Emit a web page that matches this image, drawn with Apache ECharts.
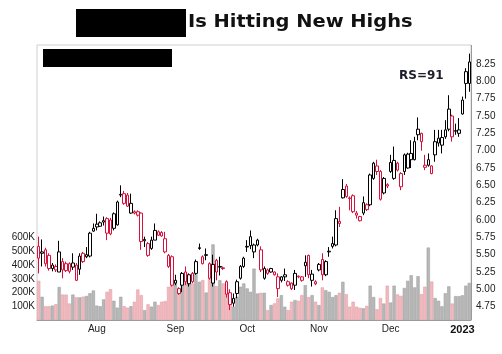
<!DOCTYPE html>
<html>
<head>
<meta charset="utf-8">
<script src="https://cdn.jsdelivr.net/npm/echarts@6/dist/echarts.min.js"></script>
<style>
  html, body { margin: 0; padding: 0; background: #fff; }
  #chart { width: 502px; height: 354px; }
</style>
</head>
<body>
<div id="chart"></div>
<script>
// trading days Jul 7 2022 - Jan 5 2023
var dates = [
  '2022-07-07','2022-07-08','2022-07-11','2022-07-12','2022-07-13','2022-07-14','2022-07-15','2022-07-18','2022-07-19','2022-07-20','2022-07-21','2022-07-22','2022-07-25','2022-07-26','2022-07-27','2022-07-28','2022-07-29',
  '2022-08-01','2022-08-02','2022-08-03','2022-08-04','2022-08-05','2022-08-08','2022-08-09','2022-08-10','2022-08-11','2022-08-12','2022-08-15','2022-08-16','2022-08-17','2022-08-18','2022-08-19','2022-08-22','2022-08-23','2022-08-24','2022-08-25','2022-08-26','2022-08-29','2022-08-30','2022-08-31',
  '2022-09-01','2022-09-02','2022-09-06','2022-09-07','2022-09-08','2022-09-09','2022-09-12','2022-09-13','2022-09-14','2022-09-15','2022-09-16','2022-09-19','2022-09-20','2022-09-21','2022-09-22','2022-09-23','2022-09-26','2022-09-27','2022-09-28','2022-09-29','2022-09-30',
  '2022-10-03','2022-10-04','2022-10-05','2022-10-06','2022-10-07','2022-10-10','2022-10-11','2022-10-12','2022-10-13','2022-10-14','2022-10-17','2022-10-18','2022-10-19','2022-10-20','2022-10-21','2022-10-24','2022-10-25','2022-10-26','2022-10-27','2022-10-28','2022-10-31',
  '2022-11-01','2022-11-02','2022-11-03','2022-11-04','2022-11-07','2022-11-08','2022-11-09','2022-11-10','2022-11-11','2022-11-14','2022-11-15','2022-11-16','2022-11-17','2022-11-18','2022-11-21','2022-11-22','2022-11-23','2022-11-25','2022-11-28','2022-11-29','2022-11-30',
  '2022-12-01','2022-12-02','2022-12-05','2022-12-06','2022-12-07','2022-12-08','2022-12-09','2022-12-12','2022-12-13','2022-12-14','2022-12-15','2022-12-16','2022-12-19','2022-12-20','2022-12-21','2022-12-22','2022-12-23','2022-12-27','2022-12-28','2022-12-29','2022-12-30',
  '2023-01-03','2023-01-04','2023-01-05'
];

var opens = [
  5.62,5.52,5.57,5.49,5.35,5.33,5.25,5.40,5.37,5.37,5.32,5.35,5.29,5.52,5.47,5.48,5.84,5.94,5.91,5.99,
  6.02,6.00,5.88,5.93,6.37,6.38,6.36,6.10,6.12,6.12,6.10,5.72,5.66,5.59,5.71,5.83,5.82,5.73,5.49,5.47,
  5.13,5.01,5.06,5.25,5.08,5.23,5.23,5.60,5.37,5.50,5.37,5.09,5.42,5.33,5.31,5.11,4.95,4.87,4.94,5.16,
  5.33,5.62,5.76,5.54,5.64,5.57,5.16,5.28,5.25,5.21,5.18,5.13,5.18,5.11,5.09,5.06,5.19,5.18,5.34,5.49,
  5.13,5.11,5.28,5.43,5.21,5.55,5.62,5.64,5.98,6.32,6.49,6.32,6.35,6.10,5.99,6.10,6.22,6.22,6.60,6.78,
  6.70,6.39,6.51,6.70,6.60,6.82,6.48,6.70,6.75,6.87,6.87,7.23,7.25,6.79,6.79,6.67,6.94,7.11,7.08,7.20,
  7.31,7.50,7.29,7.25,7.53,7.97,7.97
];
var closes = [
  5.45,5.54,5.37,5.30,5.30,5.28,5.54,5.28,5.27,5.26,5.38,5.13,5.48,5.40,5.50,5.81,5.88,5.90,5.96,5.97,
  5.81,5.80,6.09,6.26,6.36,6.24,6.20,6.24,6.10,6.07,5.69,5.70,5.49,5.71,5.85,5.78,5.77,5.54,5.33,5.06,
  5.09,4.94,5.23,5.11,5.21,5.11,5.40,5.59,5.47,5.49,5.16,5.36,5.25,5.32,5.30,4.93,4.78,4.80,5.11,5.33,
  5.45,5.61,5.63,5.64,5.71,5.28,5.30,5.23,5.30,5.25,5.01,5.18,5.21,5.06,5.01,5.23,5.18,5.13,5.39,5.21,
  5.22,5.08,5.36,5.21,5.40,5.54,5.66,6.02,5.95,6.44,6.34,6.31,6.12,6.07,6.05,6.25,6.15,6.65,6.82,6.70,
  6.30,6.60,6.49,6.83,6.86,6.72,6.67,6.94,6.95,6.96,7.13,7.31,7.13,6.76,6.87,6.78,7.13,7.18,7.19,7.30,
  7.60,7.20,7.28,7.30,7.73,8.14,8.28
];
var lows = [
  5.23,5.33,5.33,5.27,5.26,5.25,5.25,5.16,5.25,5.23,5.28,5.12,5.21,5.38,5.45,5.46,5.83,5.85,5.90,5.92,
  5.71,5.78,5.85,5.92,6.33,6.22,6.19,6.09,6.08,6.05,5.57,5.61,5.47,5.57,5.71,5.77,5.76,5.52,5.31,5.04,
  5.06,4.92,4.96,5.06,5.04,5.09,5.21,5.57,5.36,5.42,5.14,5.04,5.13,5.20,5.28,4.88,4.70,4.75,4.87,5.14,
  5.31,5.54,5.58,5.45,5.62,5.25,5.14,5.21,5.24,5.20,4.89,5.10,5.12,5.04,4.99,4.99,5.16,5.11,5.18,5.16,
  5.04,5.06,5.26,5.13,5.19,5.47,5.59,5.62,5.90,6.31,6.32,6.14,6.10,6.02,5.98,6.07,6.13,6.20,6.58,6.65,
  6.28,6.37,6.46,6.68,6.58,6.70,6.43,6.65,6.74,6.75,6.86,7.15,7.00,6.72,6.77,6.66,6.84,7.06,6.96,7.17,
  7.28,7.13,7.23,7.20,7.52,7.75,7.85
];
var highs = [
  5.76,5.72,5.60,5.52,5.38,5.36,5.70,5.45,5.40,5.39,5.52,5.38,5.52,5.54,5.61,5.83,5.95,6.09,5.98,6.05,
  6.04,6.03,6.11,6.28,6.50,6.42,6.39,6.38,6.14,6.14,6.11,5.76,5.68,5.76,5.95,5.85,5.84,5.83,5.51,5.49,
  5.21,5.03,5.25,5.33,5.23,5.25,5.43,5.66,5.49,5.59,5.39,5.50,5.44,5.47,5.33,5.13,5.00,4.94,5.14,5.35,
  5.47,5.71,5.85,5.66,5.73,5.62,5.33,5.30,5.31,5.26,5.23,5.19,5.30,5.13,5.10,5.28,5.20,5.19,5.49,5.50,
  5.28,5.13,5.38,5.52,5.42,5.61,5.76,6.14,6.19,6.59,6.52,6.34,6.37,6.13,6.06,6.34,6.24,6.67,6.84,6.87,
  6.72,6.62,6.53,6.94,7.06,6.84,6.69,6.96,6.97,7.15,7.20,7.48,7.26,6.94,6.96,6.79,7.30,7.30,7.30,7.44,
  7.80,7.52,7.39,7.47,7.78,8.19,8.40
];
// volume in thousands
var volumes = [
  285,169,100,100,105,115,240,185,185,120,185,165,165,170,175,195,215,105,100,150,
  205,224,140,90,169,101,90,101,133,222,181,72,114,97,133,109,133,138,242,254,
  290,205,266,350,278,266,333,278,290,200,302,550,246,290,266,230,121,97,169,242,
  266,230,205,374,193,198,198,72,109,121,157,181,97,72,133,145,140,181,254,167,
  181,133,109,237,217,205,167,181,198,278,188,97,133,97,89,85,103,250,167,78,
  160,120,250,127,250,186,176,233,285,326,237,319,188,242,527,280,160,140,100,195,
  245,120,174,174,180,250,270
];
var monthNames = ['Jan','Feb','Mar','Apr','May','Jun','Jul','Aug','Sep','Oct','Nov','Dec'];

var RED = '#d8103c';
var candleData = [];
var volData = [];
for (var i = 0; i < dates.length; i++) {
  var o = opens[i], c = closes[i];
  var upDay = i === 0 ? c >= o : c >= closes[i - 1];
  var col = upDay ? '#000' : RED;
  candleData.push({
    value: [o, c, lows[i], highs[i]],
    itemStyle: { color: '#fff', color0: col, borderColor: col, borderColor0: col }
  });
  volData.push({
    value: volumes[i],
    itemStyle: upDay ? { color: '#b7b7b7', borderColor: '#a2a2a2' }
                     : { color: '#f2b9be', borderColor: '#e3a0a7' }
  });
}

function firstOfMonth(idx) {
  return idx > 0 && dates[idx].slice(5, 7) !== dates[idx - 1].slice(5, 7);
}

var chart = echarts.init(document.getElementById('chart'));
chart.setOption({
  animation: false,
  backgroundColor: '#fff',
  textStyle: { fontFamily: 'Liberation Sans' },
  grid: [
    { left: 37, right: 31, top: 45, bottom: 34, show: true, borderColor: '#cfcfcf', borderWidth: 1 },
    { left: 37, right: 31, top: 46.7, bottom: 30 }
  ],
  xAxis: [
    {
      type: 'category', gridIndex: 0, data: dates, boundaryGap: true,
      axisLine: { show: true, lineStyle: { color: '#9a9a9a' } },
      axisTick: { show: false },
      splitLine: { show: false },
      axisLabel: {
        interval: function (idx) { return firstOfMonth(idx); },
        margin: 4, fontSize: 10, color: '#222',
        formatter: function (v) {
          var m = parseInt(v.slice(5, 7), 10);
          if (m === 1) return '{y|' + v.slice(0, 4) + '}';
          return monthNames[m - 1];
        },
        rich: { y: { fontWeight: 'bold', fontSize: 11, color: '#111' } }
      }
    },
    { type: 'category', gridIndex: 1, data: dates, boundaryGap: true, show: false }
  ],
  yAxis: [
    {
      type: 'value', gridIndex: 0, position: 'left', min: 0, max: 2000, interval: 100,
      axisLine: { show: false }, axisTick: { show: false }, splitLine: { show: false },
      axisLabel: {
        margin: 2, fontSize: 10, color: '#222',
        formatter: function (v) { return (v > 0 && v <= 600) ? v + 'K' : ''; }
      }
    },
    {
      type: 'value', gridIndex: 1, position: 'right', min: 4.5, max: 8.5, interval: 0.25,
      axisLine: { show: false }, axisTick: { show: false }, splitLine: { show: false },
      axisLabel: {
        margin: 5, fontSize: 10, color: '#222',
        formatter: function (v) { return (v > 4.6 && v < 8.4) ? v.toFixed(2) : ''; }
      }
    }
  ],
  series: [
    {
      type: 'bar', xAxisIndex: 0, yAxisIndex: 0, data: volData,
      barCategoryGap: '4%', itemStyle: { borderWidth: 0.6 }, z: 2
    },
    {
      type: 'candlestick', xAxisIndex: 1, yAxisIndex: 1, data: candleData,
      barWidth: 3, itemStyle: { borderWidth: 1 }, z: 5
    }
  ],
  graphic: [
    { type: 'line', shape: { x1: 471.5, y1: 45, x2: 471.5, y2: 320 }, style: { stroke: '#9a9a9a', lineWidth: 1 }, z: 10 },
    { type: 'rect', shape: { x: 76, y: 9, width: 110, height: 28 }, style: { fill: '#000' } },
    { type: 'text', x: 188, y: 13, scaleX: 1.11, style: { text: 'Is Hitting New Highs', fill: '#111', fontFamily: 'DejaVu Sans', fontWeight: 'bold', fontSize: 17.5 } },
    { type: 'rect', shape: { x: 43, y: 49, width: 129, height: 18 }, style: { fill: '#000' }, z: 10 },
    { type: 'text', left: 399, top: 70, style: { text: 'RS=91', fill: '#1c1c2c', fontFamily: 'DejaVu Sans', fontWeight: 'bold', fontSize: 12 }, z: 10 }
  ]
});
</script>
</body>
</html>
